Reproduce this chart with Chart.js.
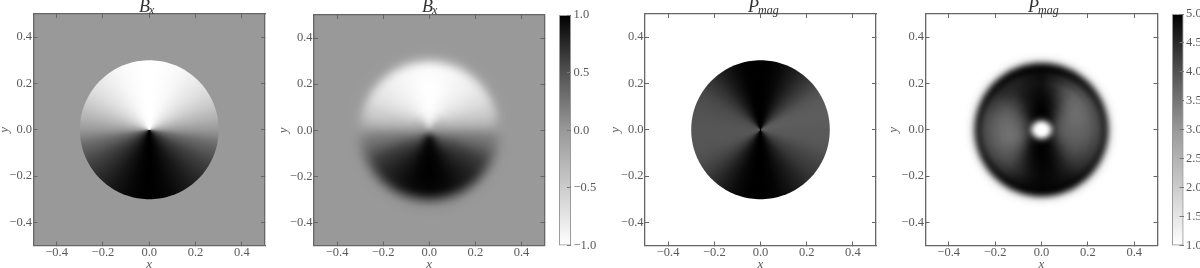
<!DOCTYPE html>
<html><head><meta charset="utf-8">
<script src="https://cdn.jsdelivr.net/npm/chart.js@4/dist/chart.umd.min.js"></script>
<style>
html,body{margin:0;padding:0;background:#fff;width:1200px;height:268px;overflow:hidden}
canvas{position:absolute;top:0;filter:blur(.4px)}
</style></head><body>
<script>
// axis ticks
const axisTicks=[-0.4,-0.2,0,0.2,0.4];
const cbTicksB=[-1,-0.5,0,0.5,1];
const cbTicksP=[1,1.5,2,2.5,3,3.5,4,4.5,5];
// grey levels (0-255) at colorbar fractions bottom to top
const cbStops=[[0,255],[0.25,204],[0.5,153],[0.75,82],[1,0]];
// angle lists, degrees counter-clockwise from +x
const angles5=[0,5,10,15,20,25,30,35,40,45,50,55,60,65,70,75,80,85,90,95,100,105,110,115,120,125,130,135,140,145,150,155,160,165,170,175,180,185,190,195,200,205,210,215,220,225,230,235,240,245,250,255,260,265,270,275,280,285,290,295,300,305,310,315,320,325,330,335,340,345,350,355];
const anglesBx=[0,6,15,30,45,60,75,90,105,120,135,150,165,174,180,186,195,210,225,240,255,270,285,300,315,330,345,354];
const anglesPm=[0,15,30,45,60,75,90,105,120,135,150,165,180,195,210,225,240,255,270,285,300,315,330,345];
// Bx, sharp panel: grey at each of angles5
const bxAngular=[153,165,178,188,198,207,215,222,228,233,238,242,246,249,251,253,254,255,255,
255,254,253,251,249,246,242,238,233,228,222,215,207,198,188,178,165,153,
135,115,100,88,76,65,56,48,40,33,26,20,15,10,6,3,1,0,
1,3,6,10,15,20,26,33,40,48,56,65,76,88,100,115,135];
// Pmag, sharp panel: grey at each of angles5
const pmAngular=[90,92,93,93,92,90,85,78,68,58,48,38,28,20,12,7,3,1,0,
0,1,3,8,15,23,32,42,52,60,68,74,78,80,82,84,85,86,
86,86,85,84,80,75,68,60,50,40,30,22,14,8,4,1,0,0,
1,3,6,12,18,25,32,40,48,56,62,68,74,80,85,88,90];
// Bx, smoothed panel: ring edges, and grey per ring at each of anglesBx
const bxRings=[0,.025,.05,.08,.11,.14,.17,.2,.23,.26,.28,.3,.32,.34,.37];
const bxPolar=[
[150,152,160,170,180,190,200,205,200,190,180,170,160,152,150,148,140,130,120,105,95,90,95,105,120,130,140,148],
[153,155,160,172,188,210,228,235,228,210,188,172,160,155,153,148,135,110,80,50,22,12,22,50,80,110,135,148],
[153,160,172,188,208,228,243,250,243,228,208,188,172,160,153,142,125,95,70,40,12,4,12,40,70,95,125,142],
[153,165,183,205,225,240,250,254,250,240,225,205,183,165,153,138,117,82,58,30,8,2,8,30,58,82,117,138],
[153,170,188,212,230,242,251,255,251,242,230,212,188,170,153,134,112,72,48,25,6,1,6,25,48,72,112,134],
[153,172,192,218,234,244,252,255,252,244,234,218,192,172,153,132,110,66,42,22,6,0,6,22,42,66,110,132],
[153,176,197,221,236,245,252,255,252,245,236,221,197,176,153,130,108,62,38,20,5,0,5,20,38,62,108,130],
[153,178,200,222,237,245,251,254,251,245,237,222,200,178,153,128,106,60,36,18,5,1,5,18,36,60,106,128],
[153,180,202,224,237,245,250,253,250,245,237,224,202,180,153,128,106,60,36,20,7,3,7,20,36,60,106,128],
[153,178,198,222,233,240,245,248,245,240,233,222,198,178,153,130,110,68,42,28,18,15,18,28,42,68,110,130],
[153,170,190,205,212,217,220,222,220,217,212,205,190,170,153,136,120,92,72,62,57,55,57,62,72,92,120,136],
[153,160,168,172,176,179,181,182,181,179,176,172,168,160,153,146,135,122,113,108,106,105,106,108,113,122,135,146],
[153,155,156,157,158,159,160,160,160,159,158,157,156,155,153,150,148,145,143,141,140,140,140,141,143,145,148,150],
[153,153,154,154,154,154,154,154,154,154,154,154,154,153,153,153,152,152,151,151,150,150,150,151,151,152,152,153]];
// Pmag, smoothed panel: ring edges, and grey per ring at each of anglesPm
const pmRings=[0,.035,.05,.07,.095,.125,.155,.185,.215,.245,.265,.28,.295,.31,.33];
const pmPolar=[
[255,255,255,255,255,255,255,255,255,255,255,255,255,255,255,255,255,255,255,255,255,255,255,255],
[150,140,120,100,90,80,75,80,90,105,120,140,150,140,120,100,90,80,75,80,90,105,120,140],
[60,55,40,25,10,5,3,5,10,25,40,50,55,55,40,25,10,5,3,5,10,25,40,55],
[88,85,72,45,18,4,0,3,12,32,62,78,85,88,68,38,12,3,0,3,12,38,62,82],
[98,100,92,68,32,10,2,8,22,48,80,98,105,108,92,60,22,6,0,5,20,48,78,92],
[102,108,106,88,50,18,6,12,28,60,90,105,112,114,100,72,32,10,2,6,24,58,84,96],
[102,108,110,100,68,30,10,18,30,62,90,102,108,108,96,76,42,14,4,8,28,60,82,94],
[96,100,104,100,76,42,14,22,34,52,78,92,98,96,88,72,44,18,5,10,28,54,72,86],
[82,84,86,78,56,32,12,22,34,40,62,78,84,82,72,56,32,14,5,10,20,44,60,72],
[60,60,54,40,24,10,4,7,14,20,36,54,60,58,44,28,14,6,3,4,10,24,42,54],
[32,30,24,18,12,8,6,8,10,12,16,24,30,30,22,16,10,7,5,7,10,16,24,30],
[118,118,116,114,112,110,110,110,112,114,116,118,118,118,116,114,112,110,110,110,112,114,116,118],
[225,225,225,225,225,225,225,225,225,225,225,225,225,225,225,225,225,225,225,225,225,225,225,225],
[250,250,250,250,250,250,250,250,250,250,250,250,250,250,250,250,250,250,250,250,250,250,250,250]];
const bgBx=153, bgPm=255, diskRadius=0.3;

const SERIF='"Liberation Serif","DejaVu Serif",serif', INK='#5a5a5a';
const grey=v=>`rgb(${v},${v},${v})`;
const minus=v=>Number(v).toFixed(1).replace('-','\u2212');

function poly(points,fillStyle){
  // a non-empty borderDash keeps Chart.js off its fast path, which would flatten near-vertical edges
  return {data:points,showLine:true,fill:'shape',pointRadius:0,pointHitRadius:0,borderDash:[1,0],
    backgroundColor:fillStyle,borderColor:'transparent',borderWidth:0,tension:0,xAxisID:'x',yAxisID:'y'};
}
// a disk of the given radius, coloured round its centre by the levels at the given angles
function disk(radius,angles,levels){
  const pts=[];
  for(let i=0;i<=90;i++){const t=i*4*Math.PI/180;pts.push({x:radius*Math.cos(t),y:radius*Math.sin(t)});}
  return poly(pts,ctx=>{
    const c=ctx.chart,sx=c.scales.x,sy=c.scales.y;
    const px=sx?sx.getPixelForValue(0):NaN,py=sy?sy.getPixelForValue(0):NaN;
    if(!Number.isFinite(px)||!Number.isFinite(py))return grey(levels[0]);
    const g=c.ctx.createConicGradient(0,px,py);
    g.addColorStop(0,grey(levels[0]));
    angles.forEach((a,i)=>{if(a>0)g.addColorStop(1-a/360,grey(levels[i]));});
    g.addColorStop(1,grey(levels[0]));
    return g;
  });
}
function background(g){
  return poly([{x:-.5,y:-.5},{x:.5,y:-.5},{x:.5,y:.5},{x:-.5,y:.5},{x:-.5,y:-.5}],grey(g));
}
// datasets draw last-to-first, so the innermost disk comes first in the list
function polarSets(bg,rings,angles,table){
  const sets=table.map((row,k)=>disk(rings[k+1],angles,row));
  sets.push(background(bg));
  return sets;
}
function fixed(v,key){return s=>{s[key]=v;};}
function setTicks(list){return s=>{s.ticks=list.map(v=>({value:v}));};}

const smooth={id:'smooth',afterDatasetsDraw(c,a,o){
  if(!o.px)return;
  const A=c.chartArea,x=c.ctx;
  x.save();x.beginPath();x.rect(A.left,A.top,A.width,A.height);x.clip();
  x.filter=`blur(${o.px}px)`;x.drawImage(c.canvas,0,0);x.restore();
}};
const heading={id:'heading',afterDraw(c,a,o){
  const x=c.ctx;x.save();x.fillStyle='#333';x.textBaseline='alphabetic';x.textAlign='left';
  x.font=`italic ${o.big}px ${SERIF}`;x.fillText(o.main,o.x,o.y);
  const w=x.measureText(o.main).width;
  x.font=`italic ${o.small}px ${SERIF}`;x.fillText(o.sub,o.x+w-1,o.y+2);
  x.restore();
}};

function panel(g){
  const cv=document.createElement('canvas');
  cv.width=g.w;cv.height=268;cv.style.left=g.left+'px';cv.style.width=g.w+'px';cv.style.height='268px';
  document.body.appendChild(cv);
  const grid={drawOnChartArea:false,drawTicks:true,tickLength:-4,tickColor:'#666',tickWidth:1,z:1};
  const border={color:'#666',width:1.3,z:2};
  const tick={color:INK,font:{family:SERIF,size:12.5},callback:minus};
  const base={type:'linear',min:-.5,max:.5,grid,border};
  const chart=new Chart(cv,{type:'scatter',data:{datasets:g.sets},plugins:[smooth,heading],options:{
    responsive:false,animation:false,events:[],layout:{padding:0},
    plugins:{legend:{display:false},tooltip:{enabled:false},smooth:{px:g.blur},
      heading:{main:g.main,sub:g.sub,x:g.tx,y:12,big:g.big,small:g.small}},
    scales:{
      x:{...base,position:'bottom',afterBuildTicks:setTicks(axisTicks),afterFit:fixed(22.5,'height'),
        ticks:{...tick,padding:4,maxRotation:0,autoSkip:false},
        title:{display:true,text:'x',color:INK,padding:{top:0,bottom:-4},font:{family:SERIF,size:13,style:'italic'}}},
      y:{...base,position:'left',afterBuildTicks:setTicks(axisTicks),afterFit:fixed(g.la,'width'),
        ticks:{...tick,padding:5.5,autoSkip:false},
        title:{display:true,text:'y',color:INK,padding:0,font:{family:SERIF,size:13,style:'italic'}}},
      x2:{...base,position:'top',afterBuildTicks:setTicks(axisTicks),afterFit:fixed(g.top,'height'),ticks:{display:false}},
      y2:{...base,position:'right',afterBuildTicks:setTicks(axisTicks),afterFit:fixed(g.ra,'width'),ticks:{display:false}}
    }}});
  chart.update();
}
function colorbar(g){
  const cv=document.createElement('canvas');
  cv.width=g.w;cv.height=268;cv.style.left=g.left+'px';cv.style.width=g.w+'px';cv.style.height='268px';
  document.body.appendChild(cv);
  new Chart(cv,{type:'bar',data:{labels:[''],datasets:[{data:[[g.ticks[0],g.ticks[g.ticks.length-1]]],
    barPercentage:1,categoryPercentage:1,borderSkipped:false,borderWidth:1.3,borderColor:'#999',
    backgroundColor(ctx){
      const A=ctx.chart.chartArea;if(!A)return '#888';
      const gr=ctx.chart.ctx.createLinearGradient(0,A.bottom,0,A.top);
      cbStops.forEach(s=>gr.addColorStop(s[0],grey(s[1])));return gr;
    }}]},options:{
    responsive:false,animation:false,events:[],
    layout:{padding:{left:2,top:g.top,bottom:22.5}},
    plugins:{legend:{display:false},tooltip:{enabled:false}},
    scales:{x:{display:false},
      y:{position:'right',min:g.ticks[0],max:g.ticks[g.ticks.length-1],afterBuildTicks:setTicks(g.ticks),
        afterFit:fixed(g.ra,'width'),
        grid:{drawOnChartArea:false,drawTicks:true,tickLength:-4,tickColor:'#777',tickWidth:1,z:1},
        border:{display:false},
        ticks:{color:INK,font:{family:SERIF,size:12.5},padding:6.5,callback:minus,autoSkip:false}}}}});
}
panel({left:-3,w:270,la:36.5,ra:2,top:14,sets:[disk(diskRadius,angles5,bxAngular),background(bgBx)],blur:.5,main:'B',sub:'x',tx:142,big:18,small:12});
panel({left:276,w:271,la:38,ra:2.5,top:15,sets:polarSets(bgBx,bxRings,anglesBx,bxPolar),blur:2,main:'B',sub:'x',tx:146,big:18,small:12});
colorbar({left:556.5,w:44,top:15,ra:30,ticks:cbTicksB});
panel({left:608,w:270,la:37,ra:2,top:14,sets:[disk(diskRadius,angles5,pmAngular),background(bgPm)],blur:.5,main:'P',sub:'mag',tx:140,big:18,small:12});
panel({left:886,w:274,la:39.5,ra:2.5,top:14,sets:polarSets(bgPm,pmRings,anglesPm,pmPolar),blur:2,main:'P',sub:'mag',tx:142,big:18,small:12});
colorbar({left:1170,w:30,top:14,ra:16.5,ticks:cbTicksP});
</script>
</body></html>
